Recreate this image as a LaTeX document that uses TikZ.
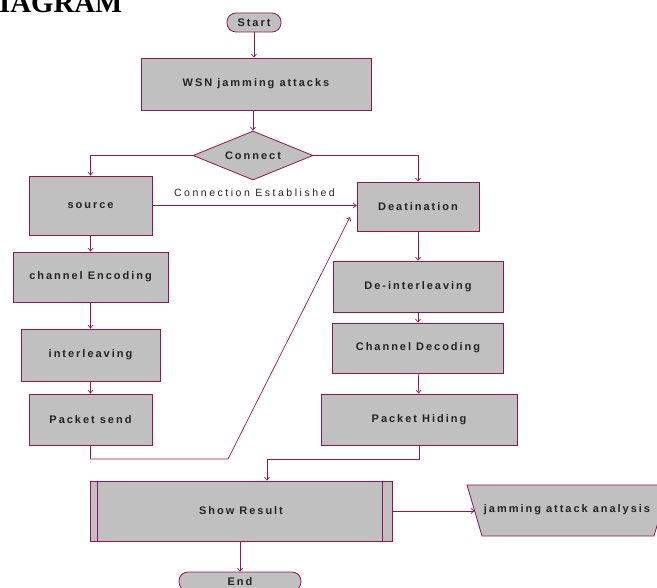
\documentclass[tikz,border=0pt]{standalone}
\usepackage{fontspec}
\usetikzlibrary{shapes.geometric,arrows.meta}
\setmainfont{Liberation Sans}
\newfontfamily\boxfont[LetterSpace=18]{Liberation Sans}
\newfontfamily\notefont[LetterSpace=24]{Liberation Sans}
\newfontfamily\headfont{Liberation Serif}
\definecolor{wire}{RGB}{145,20,85}
\definecolor{boxgray}{RGB}{192,192,192}
\definecolor{ink}{RGB}{35,35,40}

\begin{document}
\begin{tikzpicture}[x=1pt, y=-1pt, >={Straight Barb[length=3pt,width=5pt]},
    every node/.style={font=\boxfont\bfseries\fontsize{11}{12}\selectfont, text=ink},
    blk/.style={draw=wire, fill=boxgray, line width=.8pt, inner sep=0pt},
    term/.style={blk, rounded corners=9pt},
    link/.style={draw=wire, line width=.7pt}]

    \useasboundingbox (0,0) rectangle (657,588);

    \node[anchor=base west, inner sep=0pt, text=black,
          font=\headfont\bfseries\fontsize{28.8}{30}\selectfont] (head) at (-1,13) {IAGRAM};

    \node[term, minimum width=54pt, minimum height=19pt] (start) at (254,22.5) {Start};
    \node[blk, minimum width=230pt, minimum height=52pt] (wsn) at (256,84) {WSN jamming attacks};
    \node[blk, diamond, aspect=2.45, minimum width=120pt, minimum height=49pt] (conn) at (253,155.5) {Connect};

    % sender side
    \node[blk, minimum width=123pt, minimum height=59pt] (src) at (90.5,205.5) {source};
    \node[blk, minimum width=155pt, minimum height=50pt] (enc) at (90.5,277) {channel Encoding};
    \node[blk, minimum width=139pt, minimum height=52pt] (intl) at (90.5,355) {interleaving};
    \node[blk, minimum width=123pt, minimum height=51pt] (pks) at (90.5,419.5) {Packet send};

    % receiver side
    \node[blk, minimum width=122pt, minimum height=49pt] (dst) at (418,206.5) {Deatination};
    \node[blk, minimum width=170pt, minimum height=51pt] (deint) at (418,286.5) {De-interleaving};
    \node[blk, minimum width=171pt, minimum height=50pt] (dec) at (418,348) {Channel Decoding};
    \node[blk, minimum width=196pt, minimum height=51pt] (hide) at (419,419.5) {Packet Hiding};

    \node[blk, minimum width=302pt, minimum height=60pt] (show) at (241,511) {Show Result};
    \draw[wire, line width=.8pt] ([xshift=8pt]show.north west) -- ([xshift=8pt]show.south west)
        ([xshift=-10pt]show.north east) -- ([xshift=-10pt]show.south east);

    % manual input shape, runs off the right edge
    \filldraw[wire, fill=boxgray, line width=.8pt] (467,485) -- (669,485) -- (654,536) -- (482,536) -- cycle;
    \node (out) at (567,510) {jamming attack analysis};
    \coordinate (inlet) at (474.5,511);

    \node[term, minimum width=122pt, minimum height=19pt] (stop) at (240,581.5) {End};


    \draw[link, ->] (start) -- (start |- wsn.north);
    \draw[link, ->] (conn |- wsn.south) -- (conn.north);
    \draw[link, ->] (conn.west) -| (src.north);
    \draw[link, ->] (conn.east) -| (dst.north);

    \draw[link, ->] (src.east) -- (src.east -| dst.west)
        node[midway, above=5pt, font=\notefont\fontsize{10.5}{12}\selectfont] (est) {Connection Established};

    \draw[link, ->] (src) -- (enc);
    \draw[link, ->] (enc) -- (intl);
    \draw[link, ->] (intl) -- (pks);

    \coordinate (kink) at (228,459);
    \coordinate (tip) at (350,217);
    \draw[link, ->] (pks.south) |- (kink) -- (tip);

    \draw[link, ->] (dst) -- (deint);
    \draw[link, ->] (deint) -- (dec);
    \draw[link, ->] (dec) -- (hide);

    \coordinate (join) at (267,459);
    \draw[link, ->] (hide.south) |- (join) -- (join |- show.north);

    \draw[link, ->] (show.south -| stop) -- (stop.north);
    \draw[link, ->] (show.east) -- (inlet);

\end{tikzpicture}
\end{document}
